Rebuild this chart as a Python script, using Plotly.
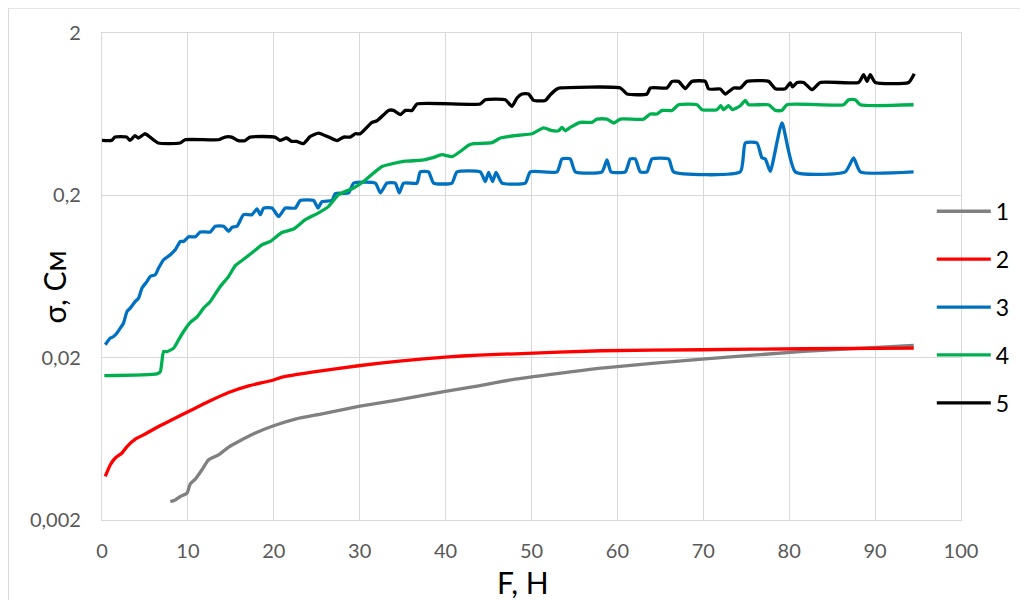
import plotly.graph_objects as go

# ---- data (F in N, sigma in S) ----
series1 = [(7.95, 0.0026), (8.53, 0.00266), (9.12, 0.00279), (9.90, 0.00293), (10.28, 0.00334),
           (10.86, 0.00357), (11.64, 0.00408), (12.41, 0.0047), (13.57, 0.00504), (14.74, 0.00563),
           (15.90, 0.00609), (17.85, 0.00686), (19.98, 0.00761), (22.50, 0.00837), (25.61, 0.00902),
           (29.87, 0.01001), (34.14, 0.0109), (39.97, 0.01238), (43.84, 0.01342), (48.11, 0.01476),
           (58.13, 0.01726), (69.89, 0.01961), (81.65, 0.02184), (94.50, 0.02378)]

series2 = [(0.38, 0.00371), (0.97, 0.00438), (1.55, 0.00482), (2.33, 0.00517), (2.91, 0.00567),
           (3.88, 0.0063), (5.04, 0.00677), (6.59, 0.00754), (8.15, 0.00829), (10.08, 0.00932),
           (12.41, 0.01074), (14.74, 0.01221), (17.07, 0.01342), (19.79, 0.01447), (20.95, 0.01519),
           (24.45, 0.01631), (29.87, 0.01783), (34.92, 0.01914), (39.97, 0.02017), (43.84, 0.02075),
           (48.11, 0.02113), (58.13, 0.02206), (69.89, 0.02238), (81.65, 0.0227), (94.50, 0.0229)]

series3 = [(0.38, 0.0240), (0.97, 0.0264), (1.35, 0.0270), (1.75, 0.0284), (2.13, 0.0304), (2.51, 0.0327),
           (2.91, 0.0385), (3.29, 0.0404), (3.88, 0.0444), (4.26, 0.0466), (4.66, 0.0537), (5.24, 0.0590),
           (5.62, 0.0633), (6.20, 0.0648), (6.59, 0.0713), (7.17, 0.0802), (7.95, 0.0861), (8.53, 0.0924),
           (9.12, 0.104), (9.50, 0.104), (10.08, 0.111), (10.86, 0.111), (11.44, 0.119), (12.61, 0.119),
           (13.19, 0.129), (14.16, 0.129), (14.74, 0.120), (15.13, 0.127), (15.72, 0.129), (16.48, 0.152),
           (17.46, 0.152), (18.04, 0.165), (18.43, 0.152), (18.81, 0.167), (19.79, 0.167), (20.56, 0.148),
           (21.34, 0.167), (22.50, 0.167), (23.09, 0.186), (24.63, 0.186), (25.15, 0.167), (25.61, 0.183),
           (26.78, 0.186), (27.16, 0.205), (28.71, 0.207), (29.29, 0.238), (31.82, 0.238), (32.40, 0.207),
           (33.18, 0.238), (34.14, 0.238), (34.61, 0.207), (35.11, 0.238), (36.67, 0.238), (37.05, 0.279),
           (38.02, 0.279), (38.60, 0.238), (40.74, 0.238), (41.33, 0.279), (44.04, 0.279), (44.62, 0.243),
           (45.01, 0.277), (45.47, 0.243), (45.87, 0.277), (46.57, 0.238), (49.28, 0.238), (49.86, 0.279),
           (52.97, 0.279), (53.55, 0.335), (54.51, 0.335), (55.10, 0.279), (58.21, 0.279), (58.79, 0.331),
           (59.25, 0.279), (60.92, 0.279), (61.50, 0.335), (62.08, 0.335), (62.66, 0.279), (63.45, 0.279),
           (64.03, 0.335), (65.96, 0.335), (66.54, 0.279), (74.31, 0.279), (74.89, 0.420), (76.25, 0.420),
           (76.83, 0.340), (77.22, 0.335), (77.80, 0.281), (79.16, 0.558), (80.71, 0.279), (86.53, 0.279),
           (87.50, 0.340), (88.28, 0.279), (94.48, 0.279)]

series4 = [(0.27, 0.0155), (6.40, 0.0159), (6.79, 0.0164), (7.17, 0.0218), (7.57, 0.0218), (8.34, 0.0229),
           (8.92, 0.0258), (9.50, 0.0290), (10.28, 0.0330), (11.06, 0.0356), (11.83, 0.0404), (12.61, 0.0444),
           (13.77, 0.0549), (14.74, 0.0633), (15.52, 0.0737), (16.68, 0.0822), (17.65, 0.0902), (18.63, 0.0992),
           (19.59, 0.104), (20.95, 0.118), (22.31, 0.124), (23.67, 0.1415), (25.22, 0.156), (26.38, 0.171),
           (27.54, 0.2017), (29.29, 0.222), (30.45, 0.2435), (31.62, 0.2745), (32.60, 0.301), (33.76, 0.313),
           (35.31, 0.3245), (37.25, 0.329), (38.42, 0.340), (39.58, 0.356), (40.74, 0.346), (41.91, 0.379),
           (42.68, 0.407), (43.26, 0.416), (45.40, 0.422), (46.37, 0.451), (48.50, 0.469), (50.06, 0.479),
           (51.41, 0.520), (52.39, 0.500), (53.15, 0.500), (53.55, 0.524), (53.93, 0.500), (54.51, 0.524),
           (55.68, 0.563), (57.04, 0.563), (57.62, 0.590), (58.79, 0.590), (59.56, 0.558), (60.34, 0.590),
           (63.05, 0.590), (63.83, 0.634), (64.61, 0.634), (65.19, 0.667), (66.36, 0.667), (67.12, 0.723),
           (69.27, 0.723), (69.85, 0.674), (71.59, 0.674), (72.04, 0.713), (72.36, 0.674), (72.94, 0.713),
           (73.41, 0.674), (74.31, 0.713), (74.89, 0.769), (75.27, 0.723), (77.60, 0.723), (78.38, 0.667),
           (79.16, 0.667), (79.74, 0.723), (86.33, 0.723), (86.91, 0.776), (87.69, 0.776), (88.28, 0.723),
           (94.48, 0.723)]

series5 = [(0.0, 0.436), (1.12, 0.436), (1.51, 0.457), (2.86, 0.457), (3.26, 0.436), (3.84, 0.466),
           (4.23, 0.451), (5.01, 0.479), (5.59, 0.457), (6.55, 0.420), (9.08, 0.420), (9.66, 0.440),
           (13.54, 0.440), (14.32, 0.457), (15.09, 0.457), (15.87, 0.434), (16.65, 0.434), (17.23, 0.457),
           (20.14, 0.457), (20.72, 0.436), (21.49, 0.451), (22.07, 0.430), (22.65, 0.430), (23.43, 0.416),
           (24.25, 0.461), (25.21, 0.484), (26.38, 0.457), (27.36, 0.434), (28.13, 0.457), (28.91, 0.457),
           (29.49, 0.479), (30.07, 0.479), (31.43, 0.563), (32.01, 0.576), (33.36, 0.667), (33.95, 0.667),
           (34.73, 0.628), (35.31, 0.667), (36.09, 0.667), (36.67, 0.731), (44.04, 0.731), (44.62, 0.776),
           (46.95, 0.776), (47.73, 0.706), (48.31, 0.795), (48.89, 0.842), (49.66, 0.842), (50.24, 0.769),
           (51.61, 0.769), (52.19, 0.833), (52.97, 0.904), (53.35, 0.917), (60.34, 0.917), (61.12, 0.842),
           (63.45, 0.842), (63.83, 0.917), (65.77, 0.917), (66.36, 1.007), (67.12, 1.007), (67.90, 0.908),
           (68.68, 1.007), (70.23, 1.007), (70.62, 0.904), (71.98, 0.904), (72.56, 0.842), (73.53, 0.917),
           (74.31, 0.917), (75.09, 1.007), (77.60, 1.007), (78.38, 0.908), (79.55, 0.908), (80.13, 0.984),
           (80.40, 0.930), (80.91, 0.992), (81.68, 0.992), (82.65, 0.895), (83.62, 0.992), (88.08, 0.992),
           (88.66, 1.107), (89.06, 1.007), (89.44, 1.107), (90.02, 0.992), (93.90, 0.992), (94.56, 1.123)]

series_names = ["1", "2", "3", "4", "5"]
series_colors = ["#808080", "#ff0000", "#0070c0", "#00b050", "#000000"]
y_tick_vals = [0.002, 0.02, 0.2, 2]
y_tick_text = ["0,002", "0,02", "0,2", "2"]
x_title = "F, Н"
y_title = "σ, См"

FONT = "Lato"
GRID = "#d9d9d9"

fig = go.Figure()
for name, color, data in zip(series_names, series_colors,
                             [series1, series2, series3, series4, series5]):
    xs = [p[0] for p in data]
    ys = [p[1] for p in data]
    fig.add_trace(go.Scatter(x=xs, y=ys, mode="lines", name=name, legendgroup=name,
                             line=dict(color=color, width=3.3, shape="spline", smoothing=0.5)))

fig.update_layout(
    width=1020, height=592, autosize=False,
    margin=dict(l=94, r=67, t=25, b=80),
    plot_bgcolor="white", paper_bgcolor="white",
    font=dict(family=FONT, color="#595959"),
    showlegend=True,
    legend=dict(x=0.966, xanchor="left", y=0.678, yanchor="top",
                font=dict(family=FONT, size=23, color="#000000"),
                tracegroupgap=15, itemwidth=54, bgcolor="rgba(255,255,255,0)"),
)
fig.update_xaxes(range=[0, 100], dtick=10, tick0=0, showgrid=True, gridcolor=GRID, gridwidth=1.3,
                 zeroline=False, showline=True, linecolor=GRID, linewidth=1.3, mirror=True,
                 ticks="", ticklabelstandoff=13,
                 tickfont=dict(family=FONT, size=20, color="#595959"))
fig.update_yaxes(type="log", range=[-2.69897, 0.30103], tickvals=y_tick_vals, ticktext=y_tick_text,
                 showgrid=True, gridcolor=GRID, gridwidth=1.3, zeroline=False,
                 showline=True, linecolor=GRID, linewidth=1.3, mirror=True,
                 ticks="", ticklabelstandoff=16,
                 tickfont=dict(family=FONT, size=20, color="#595959"))

# axis titles
fig.add_annotation(text=x_title, xref="paper", yref="paper", x=0.490, y=-0.127,
                   xanchor="center", yanchor="middle", showarrow=False,
                   font=dict(family=FONT, size=30, color="#000000"))
fig.add_annotation(text=y_title, xref="paper", yref="paper", x=-0.056, y=0.479,
                   xanchor="center", yanchor="middle", showarrow=False, textangle=-90,
                   font=dict(family=FONT, size=30, color="#000000"))

# outer chart border
fig.add_shape(type="rect", xref="paper", yref="paper", x0=-0.1088, y0=-0.3, x1=1.2, y1=1.051,
              line=dict(color=GRID, width=1), layer="below")

fig.write_html("out.html")
